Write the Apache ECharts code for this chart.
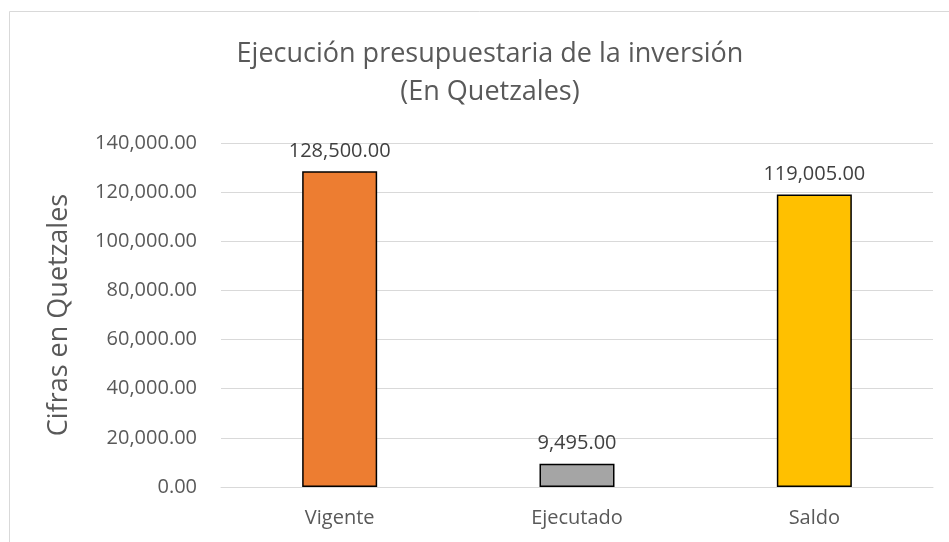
<!DOCTYPE html>
<html>
<head>
<meta charset="utf-8">
<script src="https://cdn.jsdelivr.net/npm/echarts@6/dist/echarts.min.js"></script>
<style>
  html, body { margin: 0; padding: 0; background: #fff; }
  #chart { width: 949px; height: 542px; }
</style>
</head>
<body>
<div id="chart"></div>
<script>
// datos del gráfico
const categories = ['Vigente', 'Ejecutado', 'Saldo']
const values = [128500, 9495, 119005]
const barColors = ['#ED7D31', '#A5A5A5', '#FFC000']
const yTicks = { min: 0, max: 140000, interval: 20000 }

const fmt = v => Number(v).toLocaleString('en-US', { minimumFractionDigits: 2, maximumFractionDigits: 2 })
const font = '"Open Sans", "Noto Sans", sans-serif'

const chart = echarts.init(document.getElementById('chart'))
chart.setOption({
  animation: false,
  textStyle: { fontFamily: font },
  title: {
    text: 'Ejecución presupuestaria de la inversión\n(En Quetzales)',
    left: 485,
    textAlign: 'center',
    top: 30,
    textStyle: {
      color: '#595959',
      fontSize: 27,
      fontWeight: 'normal',
      lineHeight: 38,
      fontFamily: font
    }
  },
  graphic: [{
    type: 'rect',
    shape: { x: 9.5, y: 11.5, width: 960, height: 600 },
    style: { fill: 'none', stroke: '#d9d9d9', lineWidth: 1 },
    silent: true
  }],
  grid: { left: 221, right: 16, top: 143, bottom: 55 },
  xAxis: {
    type: 'category',
    data: categories,
    axisTick: { show: false },
    axisLine: { lineStyle: { color: '#d9d9d9' } },
    axisLabel: { color: '#595959', fontSize: 20, margin: 21 }
  },
  yAxis: {
    type: 'value',
    min: yTicks.min,
    max: yTicks.max,
    interval: yTicks.interval,
    name: 'Cifras en Quetzales',
    nameLocation: 'middle',
    nameGap: 148,
    nameTextStyle: { color: '#595959', fontSize: 27 },
    axisLine: { show: false },
    axisTick: { show: false },
    axisLabel: { color: '#595959', fontSize: 20, margin: 24, formatter: fmt },
    splitLine: { lineStyle: { color: '#d9d9d9', width: 1 } }
  },
  series: [{
    type: 'bar',
    barWidth: 75,
    data: values.map((v, i) => ({
      value: v,
      itemStyle: { color: barColors[i] }
    })),
    itemStyle: { borderColor: '#000', borderWidth: 1.5 },
    label: {
      show: true,
      position: 'top',
      distance: 10,
      color: '#404040',
      fontSize: 20,
      formatter: p => fmt(p.value)
    }
  }]
})
</script>
</body>
</html>
